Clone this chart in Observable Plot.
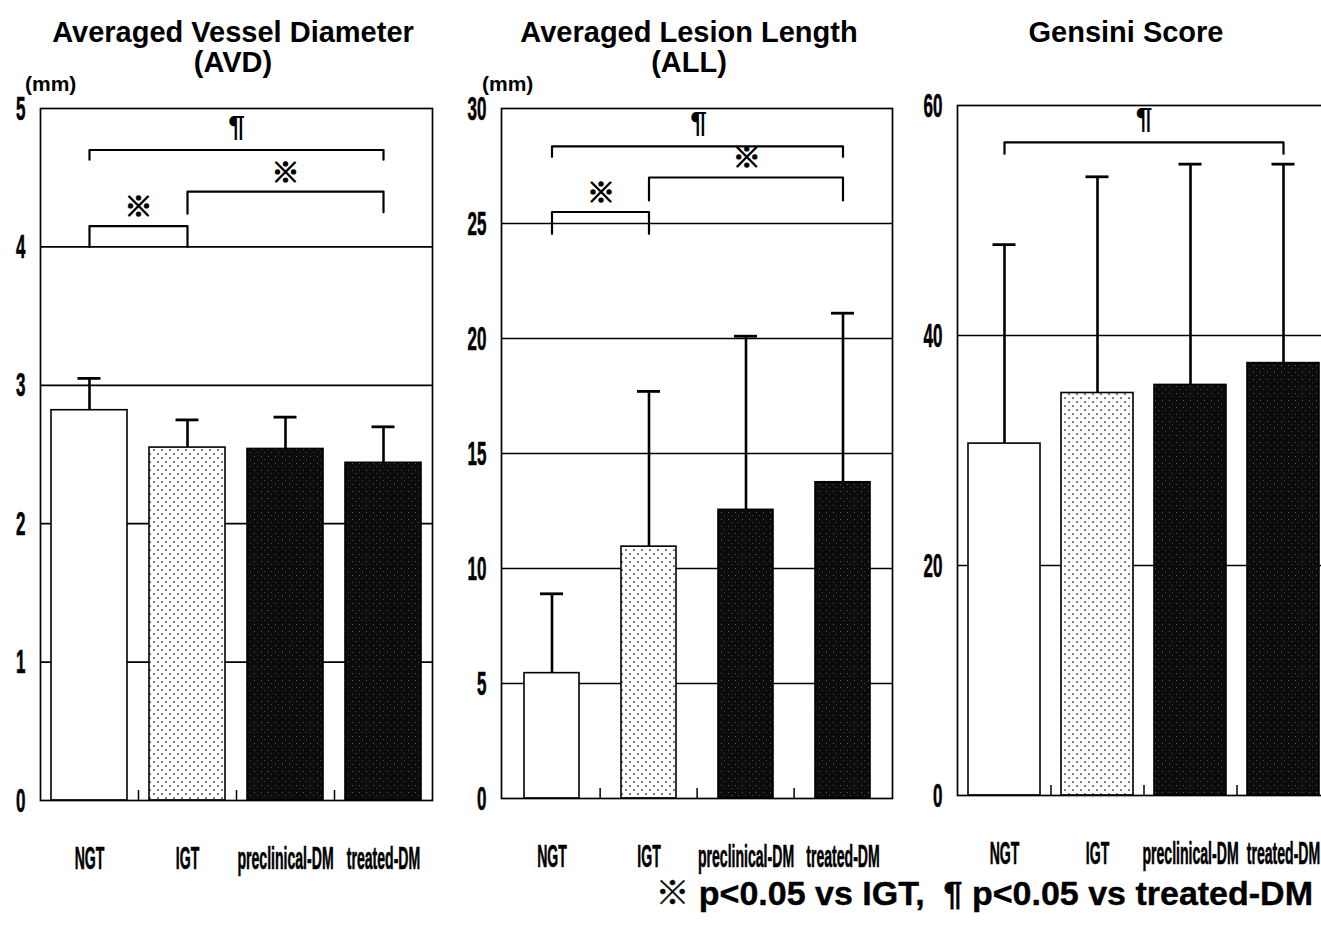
<!DOCTYPE html>
<html><head><meta charset="utf-8">
<script src="https://cdn.jsdelivr.net/npm/d3@7"></script>
<script src="https://cdn.jsdelivr.net/npm/@observablehq/plot@0.6"></script>
<style>
html,body{margin:0;padding:0;background:#fff;overflow:hidden;}
#root{position:relative;width:1321px;height:930px;overflow:hidden;font-family:"Liberation Sans",Arial,"Noto Sans CJK JP",sans-serif;}
.t{position:absolute;font-weight:bold;color:#000;white-space:pre;text-align:center;}
.panel{position:absolute;top:0;}
</style></head><body>
<svg width="0" height="0" style="position:absolute">
  <defs>
    <pattern id="dots" width="8" height="8" patternUnits="userSpaceOnUse">
      <rect width="8" height="8" fill="#fff"/>
      <circle cx="2" cy="2" r="0.85" fill="#000"/>
      <circle cx="6" cy="6" r="0.85" fill="#000"/>
    </pattern>
    <pattern id="speckle" width="7" height="7" patternUnits="userSpaceOnUse">
      <rect width="7" height="7" fill="#0c0c0c"/>
      <rect x="2" y="1" width="1" height="1" fill="#5a5a5a"/>
      <rect x="5" y="4" width="1" height="1" fill="#444"/>
    </pattern>
  </defs>
</svg>
<div id="root"></div>
<script>
// ---- data ----
const groups = ["NGT", "IGT", "preclinical-DM", "treated-DM"];

const avdMean = [2.82, 2.55, 2.54, 2.44];
const avdSD   = [0.23, 0.20, 0.23, 0.26];
const avdTicks = [0, 1, 2, 3, 4, 5];
const avdBrackets = [
  {from: "NGT", to: "treated-DM", level: 4.70, dropFrom: 4.63, dropTo: 4.63, symbol: "¶"},
  {from: "IGT", to: "treated-DM", level: 4.40, dropFrom: 4.24, dropTo: 4.25, symbol: "※"},
  {from: "NGT", to: "IGT", level: 4.15, dropFrom: 4.0, dropTo: 4.0, symbol: "※"}
];

const allMean = [5.45, 10.95, 12.55, 13.75];
const allSD   = [3.45, 6.75, 7.55, 7.35];
const allTicks = [0, 5, 10, 15, 20, 25, 30];
const allBrackets = [
  {from: "NGT", to: "treated-DM", level: 28.35, dropFrom: 27.9, dropTo: 27.9, symbol: "¶"},
  {from: "IGT", to: "treated-DM", level: 27.0, dropFrom: 26.0, dropTo: 26.0, symbol: "※"},
  {from: "NGT", to: "IGT", level: 25.5, dropFrom: 24.55, dropTo: 24.55, symbol: "※"}
];

const gsMean = [30.6, 35.0, 35.7, 37.6];
const gsSD   = [17.3, 18.8, 19.2, 17.3];
const gsTicks = [0, 20, 40, 60];
const gsBrackets = [
  {from: "NGT", to: "treated-DM", level: 56.8, dropFrom: 55.8, dropTo: 55.8, symbol: "¶"}
];

const titles = [
  {lines: ["Averaged Vessel Diameter", "(AVD)"], unit: "(mm)"},
  {lines: ["Averaged Lesion Length", "(ALL)"], unit: "(mm)"},
  {lines: ["Gensini Score"], unit: null}
];
const footnote = "※ p<0.05 vs IGT,  ¶ p<0.05 vs treated-DM";

// ---- styles ----
const barFill = {"NGT": "#ffffff", "IGT": "url(#dots)", "preclinical-DM": "url(#speckle)", "treated-DM": "url(#speckle)"};
const capWidth = 23;

function condense(svg, label, k, size, shiftY) {
  d3.select(svg).selectAll(`g[aria-label="${label}"]`)
    .attr("font-size", size).attr("font-weight", "bold")
    .attr("font-family", "'Liberation Sans', Arial, sans-serif");
  d3.select(svg).selectAll(`g[aria-label="${label}"] text`).each(function() {
    const t = this.getAttribute("transform") || "";
    const x = +this.getAttribute("x") || 0, y = +this.getAttribute("y") || 0;
    this.removeAttribute("x"); this.removeAttribute("y");
    this.setAttribute("transform", `${t} translate(${x},${y + shiftY}) scale(${k},1)`);
    this.setAttribute("stroke", "#000");
    this.setAttribute("stroke-width", "0.6");
  });
}

function panel(cfg) {
  const {left, width, height, mL, mR, mT, mB, means, sds, ticks, brackets, padInner} = cfg;
  const rows = groups.map((g, i) => ({group: g, mean: means[i], upper: means[i] + sds[i]}));
  const step = (width - mL - mR) / groups.length;
  const bw = step * (1 - padInner);
  const capInset = (bw - capWidth) / 2;
  const frameH = height - mT - mB;
  const ymax = d3.max(ticks);
  const pts = brackets.flatMap((b, k) => [
    {id: k, x: b.from, y: b.dropFrom},
    {id: k, x: b.from, y: b.level},
    {id: k, x: b.to, y: b.level},
    {id: k, x: b.to, y: b.dropTo}
  ]);
  const symbolMarks = brackets.map(b => Plot.text([b], {
    x: "from", y: "level", text: "symbol",
    dx: (groups.indexOf(b.to) - groups.indexOf(b.from)) / 2 * step,
    dy: b.symbol === "¶" ? -24 : -18,
    fontSize: b.symbol === "¶" ? 30 : 28,
    fontWeight: "bold",
    fontFamily: b.symbol === "¶" ? "'Liberation Sans', Arial, sans-serif" : "'Noto Sans CJK JP', sans-serif",
    lineAnchor: "middle", fill: "#000",
    stroke: "#000", strokeWidth: b.symbol === "¶" ? 0 : 1.1
  }));
  const svg = Plot.plot({
    width, height,
    marginLeft: mL, marginRight: mR, marginTop: mT, marginBottom: mB,
    style: {fontFamily: "'Liberation Sans', Arial, sans-serif", background: "transparent", overflow: "visible"},
    x: {type: "band", domain: groups, paddingInner: padInner, paddingOuter: padInner / 2},
    y: {domain: [0, ymax]},
    color: {type: "identity"},
    marks: [
      Plot.ruleY(ticks.filter(t => t > 0 && t < ymax), {stroke: "#000", strokeWidth: 1.7}),
      Plot.ruleX(groups.slice(1), {dx: -step / 2, insetTop: frameH - 10, stroke: "#000", strokeWidth: 1.5}),
      Plot.ruleX(rows, {x: "group", y1: "mean", y2: "upper", stroke: "#000", strokeWidth: 2.6}),
      Plot.tickY(rows, {x: "group", y: "upper", insetLeft: capInset, insetRight: capInset, stroke: "#000", strokeWidth: 2.8}),
      Plot.barY(rows, {x: "group", y: "mean", fill: d => barFill[d.group], stroke: "#000", strokeWidth: 1.6}),
      Plot.line(pts, {x: "x", y: "y", z: "id", stroke: "#000", strokeWidth: 2.2}),
      ...symbolMarks,
      Plot.frame({stroke: "#000", strokeWidth: 1.7}),
      Plot.axisY({ticks, tickSize: 0, tickPadding: 15, label: null, tickFormat: d => String(d)}),
      Plot.axisX({tickSize: 0, tickPadding: 47, label: null})
    ]
  });
  condense(svg, "y-axis tick label", 0.5, 34, 11);
  condense(svg, "x-axis tick label", 0.44, 32, 21);
  svg.classList.add("panel");
  svg.style.left = left + "px";
  return svg;
}

const root = document.getElementById("root");
const cfgs = [
  {left: 0, width: 440, height: 880, mL: 40, mR: 8, mT: 108, mB: 80, means: avdMean, sds: avdSD, ticks: avdTicks, brackets: avdBrackets, padInner: 0.224, center: 233, unitLeft: 25},
  {left: 460, width: 440, height: 880, mL: 41, mR: 8, mT: 108, mB: 82, means: allMean, sds: allSD, ticks: allTicks, brackets: allBrackets, padInner: 0.437, center: 689, unitLeft: 482},
  {left: 915, width: 420, height: 880, mL: 42, mR: 6, mT: 105, mB: 85, means: gsMean, sds: gsSD, ticks: gsTicks, brackets: gsBrackets, padInner: 0.226, center: 1126, unitLeft: null}
];
cfgs.forEach((c, i) => {
  root.appendChild(panel(c));
  titles[i].lines.forEach((ln, j) => {
    const d = document.createElement("div");
    d.className = "t";
    d.textContent = ln;
    d.style.cssText = `left:${c.center - 260}px;width:520px;top:${17 + j * 30}px;font-size:29px;line-height:30px;`;
    root.appendChild(d);
  });
  if (titles[i].unit) {
    const u = document.createElement("div");
    u.className = "t";
    u.textContent = titles[i].unit;
    u.style.cssText = `left:${c.unitLeft}px;top:74px;font-size:21px;line-height:20px;text-align:left;`;
    root.appendChild(u);
  }
});
const fn = document.createElement("div");
fn.className = "t";
fn.textContent = footnote;
fn.style.cssText = "right:8px;top:877px;font-size:34px;line-height:32px;text-align:right;-webkit-text-stroke:0.4px #000;";
root.appendChild(fn);
</script>
</body></html>
